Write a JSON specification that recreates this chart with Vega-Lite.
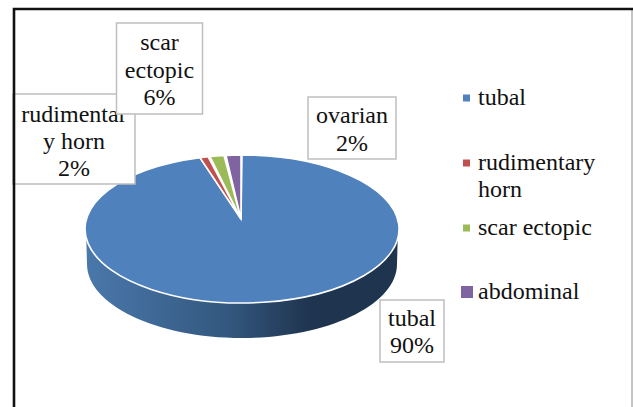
{
"$schema":"https://vega.github.io/schema/vega-lite/v6.json",
"width":633,"height":407,"padding":0,"autosize":{"type":"none"},"background":"white",
"config":{"view":{"stroke":null}},
"data":{"values":[
{"name":"tubal","value":90,"legend":"tubal","label":"tubal\n90%"},
{"name":"rudimentary horn","value":2,"legend":"rudimentary\nhorn","label":"rudimentar\ny horn\n2%"},
{"name":"scar ectopic","value":6,"legend":"scar ectopic","label":"scar\nectopic\n6%"},
{"name":"abdominal","value":2,"legend":"abdominal","label":"ovarian\n2%"}
]},
"layer":[
{"transform":[{"filter":"datum.name==='tubal'"}],
 "mark":{"type":"point","size":4,"opacity":1,"filled":false,"stroke":"#8a8a8a","strokeWidth":1,"shape":"M632,9 L632,407"},
 "encoding":{"x":{"datum":0,"type":"quantitative","scale":{"domain":[0,633],"nice":false,"zero":false},"axis":null},"y":{"datum":0,"type":"quantitative","scale":{"domain":[407,0],"nice":false,"zero":false},"axis":null}}},
{"transform":[{"filter":"datum.name==='tubal'"}],
 "mark":{"type":"point","size":4,"opacity":1,"filled":true,"strokeWidth":0,
  "fill":{"gradient":"linear","x1":0,"x2":1,"y1":0,"y2":0,"stops":[{"offset":0,"color":"#4a78ab"},{"offset":0.45,"color":"#33587f"},{"offset":0.72,"color":"#1f344f"},{"offset":1,"color":"#1f344f"}]},
  "shape":"M-156,0 L-155,35 A155,74 0 0 0 155,35 L156,0 Z"},
 "encoding":{"x":{"datum":242,"type":"quantitative","axis":null},"y":{"datum":229,"type":"quantitative","axis":null}}},
{"mark":{"type":"point","size":4,"opacity":1,"filled":true,"stroke":"white","strokeWidth":1.6},
 "encoding":{"x":{"datum":242,"type":"quantitative","axis":null},"y":{"datum":229,"type":"quantitative","axis":null},
  "color":{"field":"name","type":"nominal","legend":null,"scale":{"domain":["tubal","rudimentary horn","scar ectopic","abdominal"],"range":["#4f81bd","#c0504d","#9bbb59","#8064a2"]}},
  "shape":{"field":"name","type":"nominal","legend":null,"scale":{"domain":["tubal","rudimentary horn","scar ectopic","abdominal"],"range":[
   "M-1,-10 L0,-74 A157,74 0 1 1 -42,-71.3 Z",
   "M-1,-10 L-34,-72.3 L-42,-71.3 Z",
   "M-1,-10 L-18,-73.5 L-32,-72.5 Z",
   "M-1,-10 L-1,-74 L-16,-73.6 Z"]}}}},
{"transform":[{"filter":"datum.name==='rudimentary horn'"}],
 "mark":{"type":"point","size":4,"opacity":1,"filled":true,"fill":"white","stroke":"#bfbfbf","strokeWidth":1.5,"shape":"M-61,-45 L61,-45 L61,45 L-61,45 Z"},
 "encoding":{"x":{"datum":74,"type":"quantitative","axis":null},"y":{"datum":139,"type":"quantitative","axis":null}}},
{"transform":[{"filter":"datum.name==='rudimentary horn'"}],
 "mark":{"type":"text","font":"Liberation Serif","fontSize":24,"lineBreak":"\n","lineHeight":27,"color":"#111111","align":"center","baseline":"middle"},
 "encoding":{"text":{"field":"label"},"x":{"datum":74,"type":"quantitative","axis":null},"y":{"datum":115,"type":"quantitative","axis":null}}},
{"transform":[{"filter":"datum.name==='scar ectopic'"}],
 "mark":{"type":"point","size":4,"opacity":1,"filled":true,"fill":"white","stroke":"#bfbfbf","strokeWidth":1.5,"shape":"M-43,-45.5 L43,-45.5 L43,45.5 L-43,45.5 Z"},
 "encoding":{"x":{"datum":159.5,"type":"quantitative","axis":null},"y":{"datum":68.5,"type":"quantitative","axis":null}}},
{"transform":[{"filter":"datum.name==='scar ectopic'"}],
 "mark":{"type":"text","font":"Liberation Serif","fontSize":24,"lineBreak":"\n","lineHeight":27.5,"color":"#111111","align":"center","baseline":"middle"},
 "encoding":{"text":{"field":"label"},"x":{"datum":159.5,"type":"quantitative","axis":null},"y":{"datum":43,"type":"quantitative","axis":null}}},
{"transform":[{"filter":"datum.name==='abdominal'"}],
 "mark":{"type":"point","size":4,"opacity":1,"filled":true,"fill":"white","stroke":"#bfbfbf","strokeWidth":1.5,"shape":"M-44,-31 L44,-31 L44,31 L-44,31 Z"},
 "encoding":{"x":{"datum":352,"type":"quantitative","axis":null},"y":{"datum":128,"type":"quantitative","axis":null}}},
{"transform":[{"filter":"datum.name==='abdominal'"}],
 "mark":{"type":"text","font":"Liberation Serif","fontSize":24,"lineBreak":"\n","lineHeight":28,"color":"#111111","align":"center","baseline":"middle"},
 "encoding":{"text":{"field":"label"},"x":{"datum":352,"type":"quantitative","axis":null},"y":{"datum":116,"type":"quantitative","axis":null}}},
{"transform":[{"filter":"datum.name==='tubal'"}],
 "mark":{"type":"point","size":4,"opacity":1,"filled":true,"fill":"white","stroke":"#bfbfbf","strokeWidth":1.5,"shape":"M-32,-31 L32,-31 L32,31 L-32,31 Z"},
 "encoding":{"x":{"datum":412,"type":"quantitative","axis":null},"y":{"datum":331,"type":"quantitative","axis":null}}},
{"transform":[{"filter":"datum.name==='tubal'"}],
 "mark":{"type":"text","font":"Liberation Serif","fontSize":24,"lineBreak":"\n","lineHeight":27,"color":"#111111","align":"center","baseline":"middle"},
 "encoding":{"text":{"field":"label"},"x":{"datum":412,"type":"quantitative","axis":null},"y":{"datum":319,"type":"quantitative","axis":null}}},
{"transform":[{"filter":"datum.name==='tubal'"}],
 "layer":[
  {"mark":{"type":"square","size":49,"opacity":1,"color":"#4f81bd"},"encoding":{"x":{"datum":466.5,"type":"quantitative","axis":null},"y":{"datum":98,"type":"quantitative","axis":null}}},
  {"mark":{"type":"text","font":"Liberation Serif","fontSize":24,"color":"#111111","align":"left","baseline":"middle"},"encoding":{"text":{"field":"legend"},"x":{"datum":478,"type":"quantitative","axis":null},"y":{"datum":98,"type":"quantitative","axis":null}}}
 ]},
{"transform":[{"filter":"datum.name==='rudimentary horn'"}],
 "layer":[
  {"mark":{"type":"square","size":49,"opacity":1,"color":"#c0504d"},"encoding":{"x":{"datum":466.5,"type":"quantitative","axis":null},"y":{"datum":163,"type":"quantitative","axis":null}}},
  {"mark":{"type":"text","font":"Liberation Serif","fontSize":24,"lineBreak":"\n","lineHeight":27,"color":"#111111","align":"left","baseline":"middle"},"encoding":{"text":{"field":"legend"},"x":{"datum":478,"type":"quantitative","axis":null},"y":{"datum":163,"type":"quantitative","axis":null}}}
 ]},
{"transform":[{"filter":"datum.name==='scar ectopic'"}],
 "layer":[
  {"mark":{"type":"square","size":49,"opacity":1,"color":"#9bbb59"},"encoding":{"x":{"datum":466.5,"type":"quantitative","axis":null},"y":{"datum":228,"type":"quantitative","axis":null}}},
  {"mark":{"type":"text","font":"Liberation Serif","fontSize":24,"color":"#111111","align":"left","baseline":"middle"},"encoding":{"text":{"field":"legend"},"x":{"datum":478,"type":"quantitative","axis":null},"y":{"datum":228,"type":"quantitative","axis":null}}}
 ]},
{"transform":[{"filter":"datum.name==='abdominal'"}],
 "layer":[
  {"mark":{"type":"square","size":144,"opacity":1,"color":"#8064a2"},"encoding":{"x":{"datum":467,"type":"quantitative","axis":null},"y":{"datum":292,"type":"quantitative","axis":null}}},
  {"mark":{"type":"text","font":"Liberation Serif","fontSize":24,"color":"#111111","align":"left","baseline":"middle"},"encoding":{"text":{"field":"legend"},"x":{"datum":478,"type":"quantitative","axis":null},"y":{"datum":292,"type":"quantitative","axis":null}}}
 ]},
{"transform":[{"filter":"datum.name==='tubal'"}],
 "mark":{"type":"point","size":4,"opacity":1,"filled":false,"stroke":"#111111","strokeWidth":2.6,"shape":"M14,407 L14,9 L633,9"},
 "encoding":{"x":{"datum":0,"type":"quantitative","axis":null},"y":{"datum":0,"type":"quantitative","axis":null}}}
]
}
